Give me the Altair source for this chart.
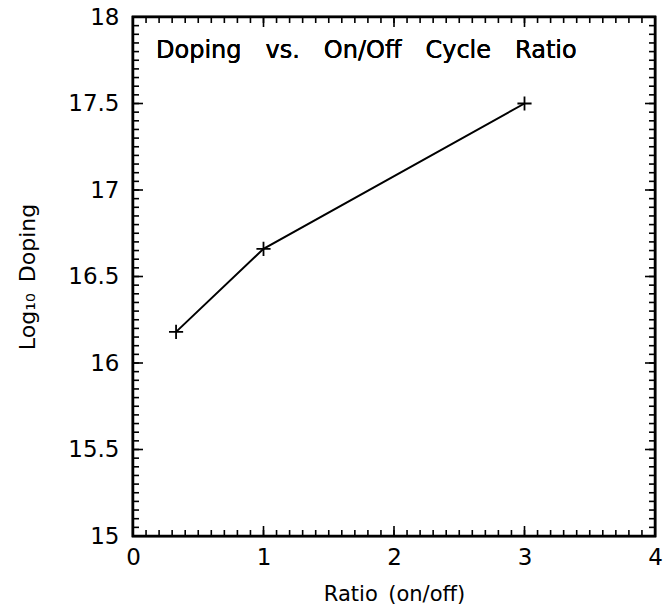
import altair as alt
import pandas as pd

ratio = [0.33, 1.0, 3.0]
log_doping = [16.18, 16.66, 17.5]

x_major = [0, 1, 2, 3, 4]
y_major = [15, 15.5, 16, 16.5, 17, 17.5, 18]
x_minor = [round(i * 0.1, 2) for i in range(0, 41)]
y_minor = [round(15 + i * 0.05, 3) for i in range(0, 61)]
title_text = "Doping\u2003vs.\u2003On/Off\u2003Cycle\u2003Ratio"

df = pd.DataFrame({"ratio": ratio, "log_doping": log_doping})

FONT = "DejaVu Sans"
xs = alt.Scale(domain=[0, 4], nice=False, zero=False)
ys = alt.Scale(domain=[15, 18], nice=False, zero=False)

frame = alt.Chart(df).mark_rect(fill="white", stroke="black", strokeWidth=2.5).encode(
    x=alt.XDatum(0, scale=xs,
                 axis=alt.Axis(values=x_major, format="~g", ticks=False, domain=False, grid=False,
                               labelFlush=False, labelOverlap=False,
                               labelFont=FONT, labelFontSize=23, labelColor="black", labelPadding=10,
                               title="Ratio\u2002(on/off)", titleFont=FONT, titleFontSize=21,
                               titleFontWeight="normal", titleColor="black", titlePadding=14)),
    x2=alt.X2Datum(4),
    y=alt.YDatum(15, scale=ys,
                 axis=alt.Axis(values=y_major, format="~g", ticks=False, domain=False, grid=False,
                               labelFlush=False, labelOverlap=False,
                               labelFont=FONT, labelFontSize=23, labelColor="black", labelPadding=14,
                               title="Log₁₀\u2002Doping", titleFont=FONT, titleFontSize=22,
                               titleFontWeight="normal", titleColor="black", titlePadding=28)),
    y2=alt.Y2Datum(18),
)

main_line = alt.Chart(df).mark_line(color="black", strokeWidth=2).encode(
    x=alt.X("ratio:Q", scale=xs),
    y=alt.Y("log_doping:Q", scale=ys),
)

pts = alt.Chart(df).mark_point(
    shape="M-1,0L1,0M0,-1L0,1", size=200, color="black", strokeWidth=1.8, filled=False, opacity=1
).encode(x=alt.X("ratio:Q", scale=xs), y=alt.Y("log_doping:Q", scale=ys))


def xticks(vals, edge, size, inward):
    d = pd.DataFrame({"v": vals, "e": [edge] * len(vals)})
    return alt.Chart(d).mark_rule(color="black", strokeWidth=1.6, y2Offset=inward * size).encode(
        x=alt.X("v:Q", scale=xs), y=alt.Y("e:Q", scale=ys), y2="e:Q")


def yticks(vals, edge, size, inward):
    d = pd.DataFrame({"v": vals, "e": [edge] * len(vals)})
    return alt.Chart(d).mark_rule(color="black", strokeWidth=1.6, x2Offset=inward * size).encode(
        y=alt.Y("v:Q", scale=ys), x=alt.X("e:Q", scale=xs), x2="e:Q")


title = alt.Chart(df).mark_text(
    text=title_text, align="left", baseline="top", dx=23, dy=22,
    font=FONT, fontSize=24, color="black",
).encode(x=alt.XDatum(0), y=alt.YDatum(18))

layers = [
    frame,
    xticks(x_minor, 15, 6, -1),
    xticks(x_minor, 18, 6, 1),
    yticks(y_minor, 0, 6, 1),
    yticks(y_minor, 4, 6, -1),
    xticks(x_major, 15, 10, -1),
    xticks(x_major, 18, 10, 1),
    yticks(y_major, 0, 10, 1),
    yticks(y_major, 4, 10, -1),
    main_line,
    pts,
    title,
]

chart = alt.layer(*layers).properties(
    width=522,
    height=519,
    background="white",
    padding={"left": 133, "top": 17, "right": 9, "bottom": 79},
    autosize=alt.AutoSizeParams(type="none"),
).configure_view(strokeWidth=0)

chart.save("out.html", embed_options={"renderer": "svg", "actions": False})
